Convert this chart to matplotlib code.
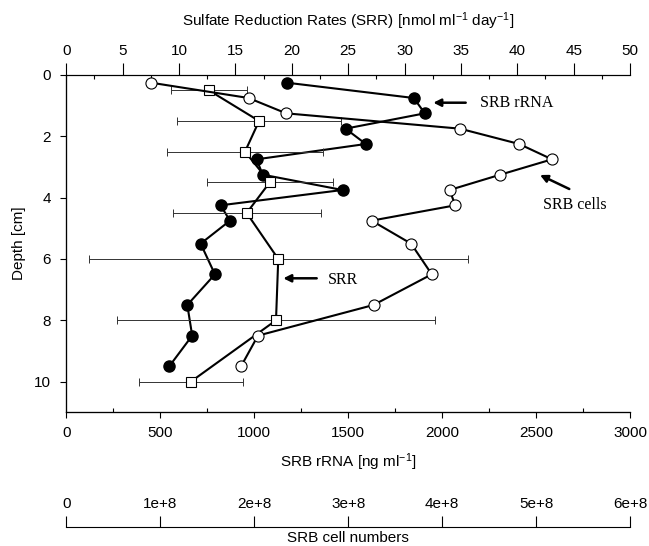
import matplotlib
matplotlib.use("Agg")
import matplotlib.pyplot as plt
import numpy as np

plt.rcParams['font.family'] = ['Liberation Sans', 'DejaVu Sans']
plt.rcParams['mathtext.fontset'] = 'custom'
plt.rcParams['mathtext.rm'] = 'Liberation Sans'
plt.rcParams['mathtext.default'] = 'rm'

# SRB rRNA (filled circles) [ng/ml]
rrna_depth = [0.25, 0.75, 1.25, 1.75, 2.25, 2.75, 3.25, 3.75, 4.25, 4.75, 5.5, 6.5, 7.5, 8.5, 9.5]
rrna_val = [1172, 1849, 1908, 1486, 1594, 1013, 1045, 1470, 821, 871, 715, 791, 644, 670, 548]

# SRB cell numbers (open circles)
cell_depth = [0.25, 0.75, 1.25, 1.75, 2.25, 2.75, 3.25, 3.75, 4.25, 4.75, 5.5, 6.5, 7.5, 8.5, 9.5]
cell_val = [0.90e8, 1.94e8, 2.34e8, 4.19e8, 4.82e8, 5.17e8, 4.62e8, 4.08e8, 4.14e8,
            3.25e8, 3.67e8, 3.89e8, 3.27e8, 2.04e8, 1.86e8]

# Sulfate reduction rates (open squares) with error
srr_depth = [0.5, 1.5, 2.5, 3.5, 4.5, 6.0, 8.0, 10.0]
srr_val = [12.65, 17.1, 15.85, 18.05, 16.0, 18.8, 18.6, 11.05]
srr_err = [3.4, 7.25, 6.95, 5.6, 6.55, 16.8, 14.1, 4.6]

W, H = 649, 546
FS = 11
fig = plt.figure(figsize=(W / 100, H / 100), dpi=100)
L, R = 66.3, 630.0
Y0, Y11 = 75.0, 412.3
ax = fig.add_axes([L / W, 1 - Y11 / H, (R - L) / W, (Y11 - Y0) / H])
ax.set_facecolor('none')
ax.set_xlim(0, 3000)
ax.set_ylim(11, 0)
ax.spines['right'].set_visible(False)
for s in ['left', 'bottom', 'top']:
    ax.spines[s].set_linewidth(0.8)
ax.set_xticks(np.arange(0, 3001, 500))
ax.set_xticks(np.arange(250, 3000, 500), minor=True)
ax.set_yticks(np.arange(0, 11, 2))
ax.tick_params(axis='x', which='major', direction='out', length=4, width=0.8, pad=6, labelsize=FS)
ax.tick_params(axis='x', which='minor', direction='in', length=3, width=0.8)
ax.tick_params(axis='y', which='major', direction='out', length=4, width=0.8, pad=7, labelsize=FS)
ax.set_xlabel('SRB rRNA [ng ml$^{-1}$]', fontsize=FS, labelpad=8)
ax.set_ylabel('Depth [cm]', fontsize=FS, labelpad=6)

ax2 = ax.twiny()
ax2.set_xlim(0, 50)
ax2.spines['right'].set_visible(False)
ax2.spines['top'].set_linewidth(0.8)
ax2.set_xticks(np.arange(0, 51, 5))
ax2.set_xticks(np.arange(2.5, 50, 5), minor=True)
ax2.tick_params(axis='x', which='major', direction='out', length=9, width=0.8, pad=3, labelsize=FS)
ax2.tick_params(axis='x', which='minor', direction='in', length=3, width=0.8)
ax2.set_xlabel('Sulfate Reduction Rates (SRR) [nmol ml$^{-1}$ day$^{-1}$]', fontsize=FS, labelpad=13)

ax3 = ax.twiny()
ax3.set_xlim(0, 6e8)
# cell-number axis drawn as a separate line below the plot
ax3c = fig.add_axes([L / W, 1 - 527.3 / H, (R - L) / W, 0.0])
ax3c.set_xlim(0, 6e8)
ax3c.set_yticks([])
for s in ['left', 'right', 'bottom']:
    ax3c.spines[s].set_visible(False)
ax3c.spines['top'].set_linewidth(0.8)
ax3c.xaxis.tick_top()
ax3c.xaxis.set_label_position('bottom')
ax3c.set_xticks(np.arange(0, 6.01e8, 1e8))
ax3c.set_xticklabels(['0', '1e+8', '2e+8', '3e+8', '4e+8', '5e+8', '6e+8'])
ax3c.tick_params(axis='x', direction='out', length=8, width=0.8, pad=4, labelsize=FS)
ax3c.set_xlabel('SRB cell numbers', fontsize=FS, labelpad=3)
ax3.set_xticks([])
ax3.spines['top'].set_visible(False)
ax3.spines['right'].set_visible(False)

# SRR with error bars
ax2.errorbar(srr_val, srr_depth, xerr=srr_err, fmt='none', ecolor='#333333',
             elinewidth=0.7, capsize=3, capthick=0.7, zorder=1)
ax2.plot(srr_val, srr_depth, '-', color='black', lw=1.5, marker='s', ms=7,
         mfc='white', mec='black', mew=0.8, zorder=3)

# cells
ax3.plot(cell_val, cell_depth, '-', color='black', lw=1.5, marker='o', ms=8,
         mfc='white', mec='black', mew=0.8, zorder=3)
# rRNA
ax.plot(rrna_val, rrna_depth, '-', color='black', lw=1.5, marker='o', ms=8,
        mfc='black', mec='black', zorder=3)

ax3.set_zorder(3)
ax2.set_zorder(2)

def px2d(px, py):
    return ((px - L) / (R - L) * 3000, (py - Y0) / (Y11 - Y0) * 11)

ap = dict(arrowstyle='-|>', color='black', lw=1.8, mutation_scale=11, shrinkA=0, shrinkB=0)
ser = ['Liberation Serif', 'DejaVu Serif']
for txt, tpos, tail, head in [
        ('SRB rRNA', (480, 102.7), (465.7, 102.7), (433.3, 102.7)),
        ('SRB cells', (543, 205), (569.3, 189), (540, 175)),
        ('SRR', (328, 280), (316.7, 278.3), (283.3, 278.3))]:
    ax3.annotate('', xy=px2d(*head), xytext=px2d(*tail), xycoords=ax.transData,
                 textcoords=ax.transData, arrowprops=ap)
    tx, ty = px2d(*tpos)
    ax3.text(tx, ty, txt, transform=ax.transData, family=ser, fontsize=11.5,
             ha='left', va='center')

fig.savefig('out.png', dpi=100)
